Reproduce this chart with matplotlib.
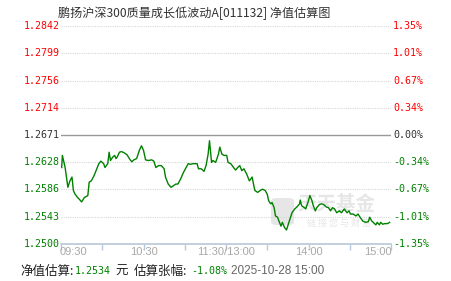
import numpy as np
import matplotlib
matplotlib.use("Agg")
import matplotlib.pyplot as plt
from matplotlib.patches import FancyBboxPatch

plt.rcParams['font.family'] = ['Noto Sans CJK SC', 'DejaVu Sans']

# data (minutes since 09:30, estimated NAV)
minutes = [0.5, 1, 3, 5, 6.5, 8, 9, 10, 12, 13, 15, 17, 18, 19.5, 20.5, 22, 24, 26, 27.5, 29,
           31, 32, 34, 35, 36, 37.5, 39, 40, 41, 42.5, 44, 46, 48, 50, 51.5, 53, 55, 57, 58.5, 60,
           61.5, 63.5, 66, 67.5, 69, 71, 73, 75, 76, 78, 80, 81.5, 83.5, 85, 87, 89, 90.5, 92.5, 94, 96,
           97.5, 99, 100, 102, 104, 105.5, 107, 108, 109.5, 110.5, 112.5, 114.5, 115.5, 117, 118.5, 120.5,
           121.5, 123.5, 125.5, 127, 128.5, 130, 131.5, 133, 135, 137, 139, 140, 141, 143, 145, 146.5,
           148.5, 150, 151, 152.5, 153.5, 155, 156, 157.5, 158.5, 160, 161, 162.5, 164, 165, 166.5, 168,
           170, 171.5, 173.5, 174, 175, 177, 178, 180, 181, 182.5, 183.5, 185, 186, 188, 189.5, 191, 193,
           194.5, 196, 197.5, 199, 200.5, 202.5, 204, 206, 208, 209.5, 210.5, 212.5, 214.5, 216, 217.5,
           219.5, 221.5, 223.5, 224.5, 226, 227, 229, 230, 231.5, 232.5, 234, 235.5, 237.5, 239]
nav = [1.2620, 1.2639, 1.2620, 1.2589, 1.2599, 1.2605, 1.2584, 1.2579, 1.2573, 1.2571, 1.2566, 1.2573,
       1.2574, 1.2576, 1.2597, 1.2599, 1.2607, 1.2618, 1.2626, 1.2630, 1.2626, 1.2620, 1.2626, 1.2644,
       1.2631, 1.2636, 1.2639, 1.2634, 1.2637, 1.2644, 1.2645, 1.2643, 1.2640, 1.2633, 1.2629, 1.2632,
       1.2634, 1.2647, 1.2654, 1.2647, 1.2632, 1.2631, 1.2632, 1.2630, 1.2620, 1.2623, 1.2623, 1.2618,
       1.2605, 1.2594, 1.2589, 1.2591, 1.2594, 1.2594, 1.2602, 1.2612, 1.2618, 1.2626, 1.2625, 1.2626,
       1.2626, 1.2626, 1.2618, 1.2618, 1.2614, 1.2623, 1.2641, 1.2662, 1.2628, 1.2631, 1.2628, 1.2641,
       1.2652, 1.2641, 1.2639, 1.2639, 1.2628, 1.2626, 1.2620, 1.2616, 1.2620, 1.2623, 1.2615, 1.2618,
       1.2610, 1.2599, 1.2605, 1.2594, 1.2584, 1.2581, 1.2584, 1.2586, 1.2584, 1.2578, 1.2568, 1.2563,
       1.2565, 1.2557, 1.2544, 1.2542, 1.2536, 1.2528, 1.2534, 1.2526, 1.2522, 1.2529, 1.2539, 1.2549,
       1.2555, 1.2558, 1.2563, 1.2569, 1.2560, 1.2557, 1.2555, 1.2568, 1.2576, 1.2568, 1.2560, 1.2552,
       1.2557, 1.2562, 1.2563, 1.2562, 1.2558, 1.2557, 1.2552, 1.2557, 1.2555, 1.2549, 1.2552, 1.2549,
       1.2555, 1.2549, 1.2552, 1.2547, 1.2547, 1.2544, 1.2547, 1.2542, 1.2536, 1.2534, 1.2535, 1.2542,
       1.2536, 1.2534, 1.2530, 1.2534, 1.2530, 1.2534, 1.2531, 1.2532, 1.2532, 1.2534]

base = 1.2671
nav_ticks = [1.2500, 1.2543, 1.2586, 1.2628, 1.2671, 1.2714, 1.2756, 1.2799, 1.2842]
pct_ticks = ['-1.35%', '-1.01%', '-0.67%', '-0.34%', '0.00%', '0.34%', '0.67%', '1.01%', '1.35%']
x_ticks = [0, 60, 120, 180, 240]
x_labels = ['09:30', '10:30', '11:30/13:00', '14:00', '15:00']

title = '鹏扬沪深300质量成长低波动A[011132] 净值估算图'
est_nav = '1.2534'
est_chg = '-1.08%'
stamp = '2025-10-28 15:00'

W, H = 451, 281
fig = plt.figure(figsize=(W / 100, H / 100), dpi=100)
ax = fig.add_axes([61 / W, 37 / H, 330 / W, 218 / H])

ax.set_xlim(0, 240)
ax.set_ylim(nav_ticks[0], nav_ticks[-1])

for v in nav_ticks:
    if v == base:
        ax.axhline(v, color='#999999', lw=1.0, zorder=1)
    elif v != nav_ticks[0]:
        ax.axhline(v, color='#d8d8d8', lw=0.8, ls=(0, (1, 1)), zorder=1)

ax.plot(minutes, nav, color='#008000', lw=1.0, zorder=3)

def col(v):
    if v > base + 1e-9:
        return '#ff0000'
    if abs(v - base) < 1e-9:
        return '#333333'
    return '#008000'

mono = 'DejaVu Sans Mono'
for v, p in zip(nav_ticks, pct_ticks):
    ax.text(-1.2, v, '%.4f' % v, ha='right', va='center', fontsize=7.2, family=mono,
            color=col(v), clip_on=False)
    ax.text(241.5, v, p, ha='left', va='center', fontsize=7.2, family=mono,
            color=col(v), clip_on=False)

ax.set_yticks([])
ax.set_xticks(np.arange(0, 241, 30))
ax.set_xticklabels([])
ax.tick_params(axis='x', length=4, color='#b8c8d8', width=1)
for s in ['top', 'left', 'right']:
    ax.spines[s].set_visible(False)
ax.spines['bottom'].set_color('#b8c8d8')
ax.spines['bottom'].set_linewidth(1.2)

aligns = ['left', 'center', 'center', 'center', 'right']
for xv, lab, al in zip(x_ticks, x_labels, aligns):
    xx = xv - 0.8 if al == 'left' else (xv + 0.8 if al == 'right' else xv)
    ax.text(xx, nav_ticks[0] - 0.0012, lab, ha=al, va='center', fontsize=8,
            family='Liberation Sans', color='#a8a8a8', clip_on=False)

# watermark, drawn under the line
tf = fig.transFigure
ax.add_patch(FancyBboxPatch((271 / W, 1 - 225 / H), 23 / W, 27 / H,
                            boxstyle='round,pad=0,rounding_size=0.012', transform=tf,
                            facecolor='#e6e6e6', edgecolor='none', zorder=0, clip_on=False))
ax.text(297 / W, 1 - 205 / H, '天天基金', fontsize=14, color='#e6e6e6', ha='left', va='center',
        fontweight='bold', transform=tf, zorder=0)
ax.text(307 / W, 1 - 223 / H, '链 接 您 与 财 富', fontsize=6.5, color='#e6e6e6', ha='left', va='center',
        transform=tf, zorder=0)

fig.text(58 / W, 1 - 13 / H, title, fontsize=8.7, color='#333333', ha='left', va='center')

yb = 1 - 271 / H
fig.text(20 / W, yb, '净值估算:', fontsize=9, color='#222222', ha='left', va='center')
fig.text(75 / W, yb, est_nav, fontsize=7.2, color='#008000', ha='left', va='center', family=mono)
fig.text(115 / W, yb, '元', fontsize=9, color='#222222', ha='left', va='center')
fig.text(134 / W, yb, '估算张幅:', fontsize=9, color='#222222', ha='left', va='center')
fig.text(191 / W, yb, est_chg, fontsize=7.2, color='#008000', ha='left', va='center', family=mono)
fig.text(231 / W, yb, stamp, fontsize=8.5, color='#666666', ha='left', va='center', family='Liberation Sans')

fig.savefig('out.png', dpi=100)
